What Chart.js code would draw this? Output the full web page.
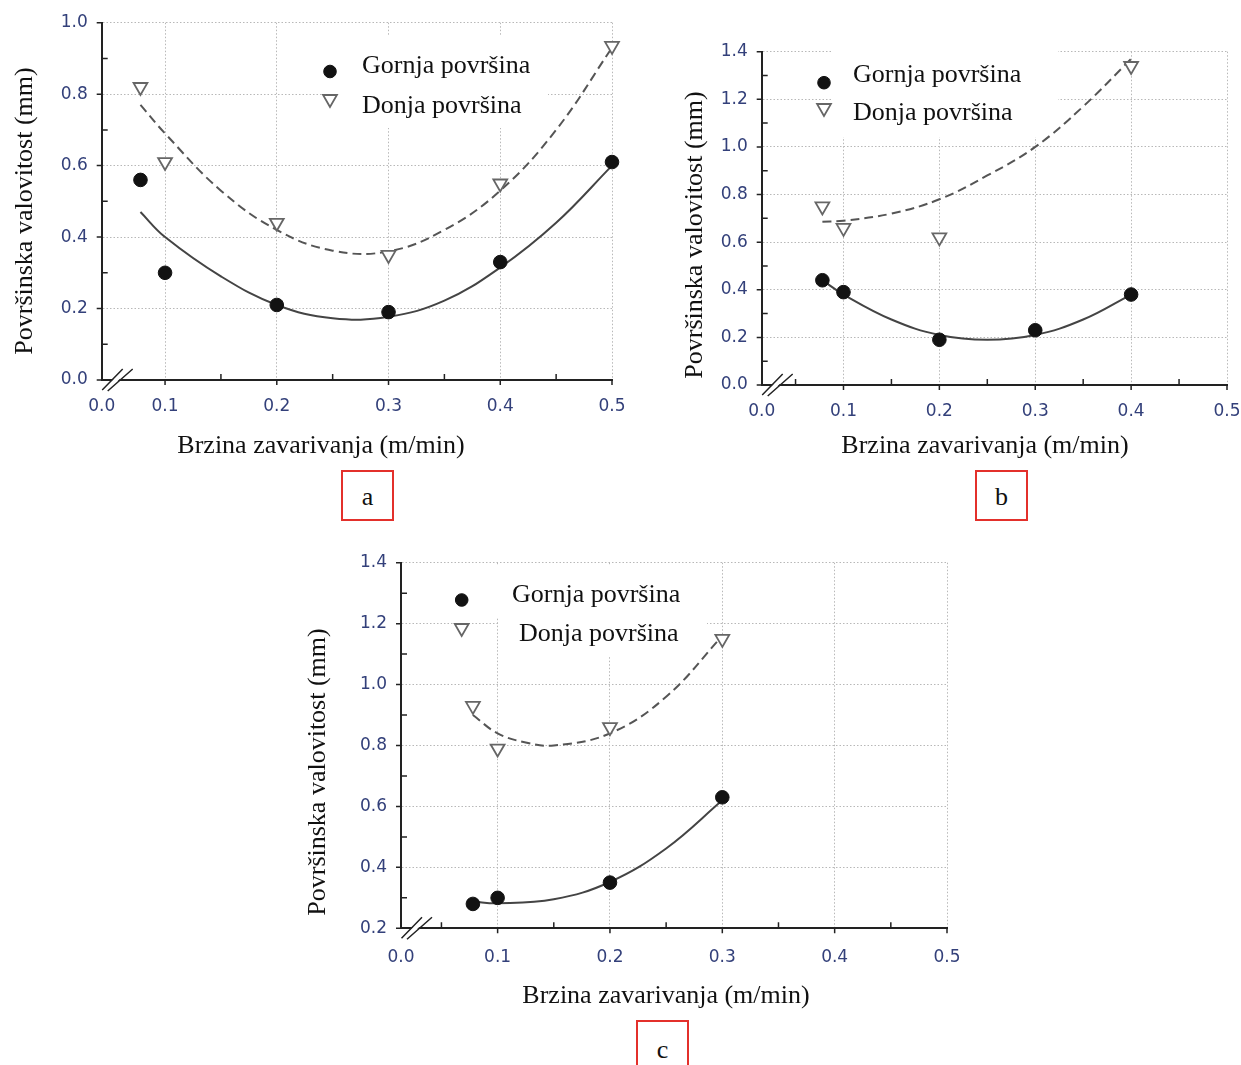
<!DOCTYPE html>
<html>
<head>
<meta charset="utf-8">
<script src="https://cdn.jsdelivr.net/npm/chart.js@4.4.1/dist/chart.umd.min.js"></script>
<style>
body { margin: 0; background: #fff; }
#page { position: relative; width: 1241px; height: 1065px; overflow: hidden; background: #fff; }
.panel { position: absolute; }
.tag { position: absolute; box-sizing: border-box; border: 2px solid #e3302b; color: #111;
       font: 26px "Liberation Serif", "Times New Roman", serif; text-align: center; }
</style>
</head>
<body>
<div id="page">
  <div class="panel" style="left:0;top:0;width:650px;height:470px"><canvas id="chartA"></canvas></div>
  <div class="panel" style="left:655px;top:0;width:586px;height:470px"><canvas id="chartB"></canvas></div>
  <div class="panel" style="left:290px;top:530px;width:680px;height:490px"><canvas id="chartC"></canvas></div>
  <div class="tag" style="left:341px;top:470px;width:53px;height:51px;line-height:49px">a</div>
  <div class="tag" style="left:975px;top:470px;width:53px;height:51px;line-height:49px">b</div>
  <div class="tag" style="left:636px;top:1020px;width:53px;height:70px;line-height:56px">c</div>
</div>
<script>
const xAxisTitle = 'Brzina zavarivanja (m/min)';
const yAxisTitle = 'Površinska valovitost (mm)';
const seriesNames = ['Gornja površina', 'Donja površina'];

// x ticks: first value is the start of the broken axis, labelled 0.0
const xTickLabels = ['0.0', '0.1', '0.2', '0.3', '0.4', '0.5'];
const xTicksA = [0.0433, 0.1, 0.2, 0.3, 0.4, 0.5];
const xTicksB = [0.0147, 0.1, 0.2, 0.3, 0.4, 0.5];
const xTicksC = [0.014, 0.1, 0.2, 0.3, 0.4, 0.5];
const xMinor = [0.05, 0.15, 0.25, 0.35, 0.45];

const yTicksA = [0.0, 0.2, 0.4, 0.6, 0.8, 1.0];
const yMinorA = [0.1, 0.3, 0.5, 0.7, 0.9];
const yTicksB = [0.0, 0.2, 0.4, 0.6, 0.8, 1.0, 1.2, 1.4];
const yMinorB = [0.1, 0.3, 0.5, 0.7, 0.9, 1.1, 1.3];
const yTicksC = [0.2, 0.4, 0.6, 0.8, 1.0, 1.2, 1.4];
const yMinorC = [0.3, 0.5, 0.7, 0.9, 1.1, 1.3];

// panel a
const speedA = [0.078, 0.1, 0.2, 0.3, 0.4, 0.5];
const upperA = [0.56, 0.30, 0.21, 0.19, 0.33, 0.61];
const lowerA = [0.82, 0.61, 0.44, 0.35, 0.55, 0.935];
const fitXA = [0.078, 0.1, 0.15, 0.2, 0.25, 0.3, 0.35, 0.4, 0.45, 0.5];
const fitUpperA = [0.47, 0.40, 0.29, 0.21, 0.173, 0.177, 0.222, 0.315, 0.44, 0.60];
const fitLowerA = [0.77, 0.69, 0.53, 0.42, 0.362, 0.36, 0.42, 0.53, 0.70, 0.93];

// panel b
const speedUpperB = [0.078, 0.1, 0.2, 0.3, 0.4];
const upperB = [0.44, 0.39, 0.19, 0.23, 0.38];
const speedLowerB = [0.078, 0.1, 0.2, 0.4];
const lowerB = [0.75, 0.66, 0.62, 1.34];
const fitXB = [0.078, 0.1, 0.15, 0.2, 0.25, 0.3, 0.35, 0.4];
const fitUpperB = [0.44, 0.38, 0.275, 0.21, 0.19, 0.21, 0.275, 0.38];
const fitLowerB = [0.686, 0.69, 0.72, 0.78, 0.88, 1.0, 1.17, 1.37];

// panel c
const speedC = [0.078, 0.1, 0.2, 0.3];
const upperC = [0.28, 0.30, 0.35, 0.63];
const lowerC = [0.93, 0.79, 0.86, 1.15];
const fitXC = [0.078, 0.1, 0.15, 0.2, 0.25, 0.3];
const fitUpperC = [0.288, 0.282, 0.295, 0.352, 0.462, 0.62];
const fitXC2 = [0.078, 0.1, 0.125, 0.15, 0.2, 0.25, 0.3];
const fitLowerC = [0.90, 0.84, 0.81, 0.80, 0.84, 0.96, 1.16];

const serif = '"Liberation Serif", "Times New Roman", serif';
const tickColor = '#33407a';
const axisColor = '#222';
const gridColor = '#b8b8b8';

const pairs = (xs, ys) => xs.map((x, i) => ({ x, y: ys[i] }));

function pointSet(label, xs, ys, kind) {
    const tri = kind === 'triangle';
    return {
        type: 'scatter',
        label,
        data: pairs(xs, ys),
        pointStyle: tri ? 'triangle' : 'circle',
        rotation: tri ? 180 : 0,
        radius: tri ? 8 : 6.8,
        backgroundColor: tri ? '#fff' : '#121212',
        borderColor: tri ? '#666' : '#121212',
        borderWidth: tri ? 1.8 : 1,
        clip: false,
        order: 0
    };
}

function fitSet(xs, ys, dashed) {
    return {
        type: 'line',
        data: pairs(xs, ys),
        borderColor: dashed ? '#555' : '#444',
        borderWidth: 2,
        borderDash: dashed ? [9, 5] : [],
        pointRadius: 0,
        tension: 0.4,
        fill: false,
        clip: false,
        order: 1
    };
}

// white boxes behind legend text, ticks, axis break, legend and titles
const decor = {
    id: 'decor',
    beforeDatasetsDraw(chart, args, o) {
        const ctx = chart.ctx;
        const a = chart.chartArea;
        const xs = chart.scales.x, ys = chart.scales.y;
        ctx.save();
        ctx.fillStyle = '#fff';
        o.boxes.forEach(b => ctx.fillRect(b[0], b[1], b[2], b[3]));

        ctx.strokeStyle = axisColor;
        ctx.lineWidth = 1.5;
        ctx.beginPath();
        o.xMajor.slice(1).forEach(v => {
            const x = xs.getPixelForValue(v);
            ctx.moveTo(x, a.bottom); ctx.lineTo(x, a.bottom + 5);
        });
        o.xMinor.filter(v => v > o.xMajor[0] + 0.01).forEach(v => {
            const x = xs.getPixelForValue(v);
            ctx.moveTo(x, a.bottom); ctx.lineTo(x, a.bottom - 6);
        });
        o.yMajor.forEach(v => {
            const y = ys.getPixelForValue(v);
            ctx.moveTo(a.left, y); ctx.lineTo(a.left - 5, y);
        });
        o.yMinor.forEach(v => {
            const y = ys.getPixelForValue(v);
            ctx.moveTo(a.left, y); ctx.lineTo(a.left + 6, y);
        });
        ctx.stroke();

        // axis break "//"
        const L = a.left, B = a.bottom;
        ctx.fillStyle = '#fff';
        ctx.beginPath();
        ctx.moveTo(L + 2, B + 9); ctx.lineTo(L + 22, B - 11);
        ctx.lineTo(L + 28, B - 11); ctx.lineTo(L + 8, B + 9);
        ctx.closePath();
        ctx.fill();
        ctx.lineWidth = 1.5;
        ctx.beginPath();
        ctx.moveTo(L + 0.5, B + 10); ctx.lineTo(L + 21, B - 11);
        ctx.moveTo(L + 6, B + 11); ctx.lineTo(L + 31, B - 11);
        ctx.stroke();

        // legend
        o.rows.forEach(r => {
            const ds = chart.data.datasets[r.ds];
            ctx.fillStyle = ds.backgroundColor;
            ctx.strokeStyle = ds.borderColor;
            ctx.lineWidth = ds.borderWidth;
            Chart.helpers.drawPoint(ctx, {
                pointStyle: ds.pointStyle, rotation: ds.rotation,
                radius: ds.pointStyle === 'circle' ? 6.3 : 8, borderWidth: ds.borderWidth
            }, r.mx, r.my);
            ctx.fillStyle = '#111';
            ctx.font = '26px ' + serif;
            ctx.textAlign = 'left';
            ctx.textBaseline = 'alphabetic';
            ctx.fillText(ds.label, r.tx, r.ty);
        });
        ctx.restore();
    },
    afterDraw(chart, args, o) {
        const ctx = chart.ctx;
        ctx.save();
        ctx.fillStyle = '#111';
        ctx.font = '26px ' + serif;
        ctx.textAlign = 'center';
        ctx.textBaseline = 'middle';
        ctx.fillText(xAxisTitle, o.xTitle[0], o.xTitle[1]);
        ctx.translate(o.yTitle[0], o.yTitle[1]);
        ctx.rotate(-Math.PI / 2);
        ctx.fillText(yAxisTitle, 0, 0);
        ctx.restore();
    }
};

function makeChart(id, p) {
    const tickFont = { family: '"DejaVu Sans", Arial, sans-serif', size: 17 };
    return new Chart(document.getElementById(id), {
        data: { datasets: p.datasets },
        plugins: [decor],
        options: {
            responsive: true,
            maintainAspectRatio: false,
            animation: false,
            events: [],
            layout: { padding: { top: p.top, right: p.right, left: 0, bottom: 0 } },
            plugins: {
                legend: { display: false },
                tooltip: { enabled: false },
                decor: {
                    boxes: p.boxes, rows: p.rows, xTitle: p.xTitle, yTitle: p.yTitle,
                    xMajor: p.xTicks, xMinor: xMinor, yMajor: p.yTicks, yMinor: p.yMinor
                }
            },
            scales: {
                x: {
                    type: 'linear',
                    min: p.xTicks[0],
                    max: p.xTicks[p.xTicks.length - 1],
                    afterBuildTicks: s => { s.ticks = p.xTicks.map(v => ({ value: v })); },
                    afterFit: s => { s.height = p.xHeight; s.paddingLeft = 0; s.paddingRight = 0; },
                    ticks: {
                        callback: (v, i) => xTickLabels[i],
                        font: tickFont, color: tickColor, padding: p.xPad,
                        maxRotation: 0, autoSkip: false
                    },
                    grid: {
                        color: c => c.index === 0 ? 'rgba(0,0,0,0)' : gridColor,
                        lineWidth: 1, drawTicks: false
                    },
                    border: { color: axisColor, width: 2, dash: [1.5, 2] }
                },
                y: {
                    type: 'linear',
                    min: p.yTicks[0],
                    max: p.yTicks[p.yTicks.length - 1],
                    afterBuildTicks: s => { s.ticks = p.yTicks.map(v => ({ value: v })); },
                    afterFit: s => { s.width = p.yWidth; s.paddingTop = 0; s.paddingBottom = 0; },
                    ticks: {
                        callback: v => v.toFixed(1),
                        font: tickFont, color: tickColor, padding: 14
                    },
                    grid: {
                        color: c => c.index === 0 ? 'rgba(0,0,0,0)' : gridColor,
                        lineWidth: 1, drawTicks: false
                    },
                    border: { color: axisColor, width: 2, dash: [1.5, 2] }
                }
            }
        }
    });
}

makeChart('chartA', {
    datasets: [
        pointSet(seriesNames[0], speedA, upperA, 'circle'),
        pointSet(seriesNames[1], speedA, lowerA, 'triangle'),
        fitSet(fitXA, fitUpperA, false),
        fitSet(fitXA, fitLowerA, true)
    ],
    xTicks: xTicksA, yTicks: yTicksA, yMinor: yMinorA,
    top: 22.7, right: 38, yWidth: 101.7, xHeight: 90, xPad: 16,
    boxes: [[322, 36, 226, 92]],
    rows: [
        { ds: 0, mx: 330, my: 71.5, tx: 362, ty: 73 },
        { ds: 1, mx: 330, my: 99, tx: 362, ty: 113 }
    ],
    xTitle: [321, 446], yTitle: [25, 211]
});

makeChart('chartB', {
    datasets: [
        pointSet(seriesNames[0], speedUpperB, upperB, 'circle'),
        pointSet(seriesNames[1], speedLowerB, lowerB, 'triangle'),
        fitSet(fitXB, fitUpperB, false),
        fitSet(fitXB, fitLowerB, true)
    ],
    xTicks: xTicksB, yTicks: yTicksB, yMinor: yMinorB,
    top: 51.7, right: 14, yWidth: 106.7, xHeight: 85, xPad: 16,
    boxes: [[177, 45, 226, 92]],
    rows: [
        { ds: 0, mx: 169, my: 82.7, tx: 198, ty: 82 },
        { ds: 1, mx: 169, my: 108, tx: 198, ty: 120 }
    ],
    xTitle: [330, 446], yTitle: [40, 235]
});

makeChart('chartC', {
    datasets: [
        pointSet(seriesNames[0], speedC, upperC, 'circle'),
        pointSet(seriesNames[1], speedC, lowerC, 'triangle'),
        fitSet(fitXC, fitUpperC, false),
        fitSet(fitXC2, fitLowerC, true)
    ],
    xTicks: xTicksC, yTicks: yTicksC, yMinor: yMinorC,
    top: 32.7, right: 23, yWidth: 111, xHeight: 91.7, xPad: 19,
    boxes: [[205, 36, 212, 51], [209, 87, 208, 40]],
    rows: [
        { ds: 0, mx: 171.7, my: 70, tx: 222, ty: 72 },
        { ds: 1, mx: 171.7, my: 98, tx: 229, ty: 111 }
    ],
    xTitle: [376, 466], yTitle: [28, 242]
});
</script>
</body>
</html>
